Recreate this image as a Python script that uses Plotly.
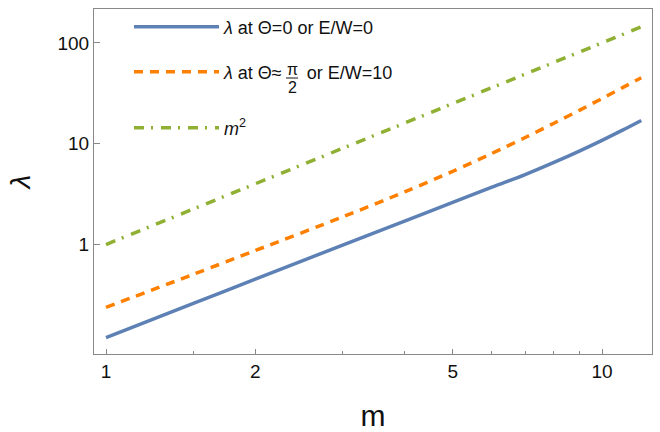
import plotly.graph_objects as go

# ---- data ----
m_vals = [1, 1.5, 2, 3, 4, 5, 6, 7, 8, 9, 10, 11, 12]
lam_theta0 = [0.119, 0.260, 0.453, 0.987, 1.710, 2.612, 3.708, 4.939, 6.52, 8.446, 10.79, 13.62, 17.01]
lam_theta_pi2 = [0.238, 0.506, 0.871, 1.879, 3.327, 5.32, 8.02, 11.51, 15.96, 21.43, 28.05, 35.97, 45.08]
m_squared = [1, 2.25, 4, 9, 16, 25, 36, 49, 64, 81, 100, 121, 144]

x_tickvals = [1, 2, 5, 10]
x_ticktext = ["1", "2", "5", "10"]
x_minor = [1.5, 3, 4, 6, 7, 8, 9]
y_tickvals = [1, 10, 100]
y_ticktext = ["1", "10", "100"]

BLUE = "#5E81B5"
ORANGE = "#FF8000"
GREEN = "#8FB032"
FRAME = "#888888"
FONT = "Liberation Sans, Arial, sans-serif"
NB = "\u00a0"

fig = go.Figure()
fig.add_trace(go.Scatter(x=m_vals, y=lam_theta0, mode="lines", showlegend=True,
                         name="<i>λ</i> at Θ=0 or E/W=0",
                         line=dict(color=BLUE, width=3.5, shape="spline", smoothing=0.8),
                         legend="legend"))
fig.add_trace(go.Scatter(x=m_vals, y=lam_theta_pi2, mode="lines", showlegend=True,
                         name="<i>λ</i> at Θ≈" + NB * 5 + "or E/W=10",
                         line=dict(color=ORANGE, width=3.5, dash="9px,7px", shape="spline", smoothing=0.8),
                         legend="legend2"))
fig.add_trace(go.Scatter(x=m_vals, y=m_squared, mode="lines", showlegend=True,
                         name="<i>m</i><sup>2</sup>",
                         line=dict(color=GREEN, width=3.5, dash="10px,7px,2px,8px"),
                         legend="legend3"))

# plot area: x 94..652 px, y 9..354 px
L, R, T, B = 94, 652, 9, 354
def px(x):
    return (x - L) / (R - L)
def py(y):
    return (B - y) / (B - T)

def leg(y):
    return dict(x=px(129), y=py(y), xref="paper", yref="paper", xanchor="left", yanchor="middle",
                bgcolor="rgba(0,0,0,0)", borderwidth=0, itemwidth=85, visible=True,
                font=dict(family=FONT, size=18, color="#111"))

fig.update_layout(
    width=660, height=432,
    margin=dict(l=L, r=660 - R, t=T, b=432 - B, autoexpand=False),
    paper_bgcolor="white", plot_bgcolor="white",
    showlegend=True,
    font=dict(family=FONT, size=18, color="#111"),
    legend=leg(27),
    legend2=leg(72),
    legend3=leg(128),
    xaxis=dict(type="log", range=[-0.0242, 1.1008], automargin=False,
               tickmode="array", tickvals=x_tickvals, ticktext=x_ticktext,
               ticks="inside", ticklen=5, tickwidth=1, tickcolor=FRAME,
               minor=dict(tickmode="array", tickvals=x_minor, ticks="inside",
                          ticklen=3, tickwidth=1, tickcolor=FRAME, showgrid=False),
               showline=True, linecolor=FRAME, linewidth=1, mirror=True,
               showgrid=False, zeroline=False,
               tickfont=dict(family=FONT, size=19, color="#111"),
               title=dict(text="m", font=dict(family=FONT, size=30, color="#111"), standoff=33)),
    yaxis=dict(type="log", range=[-1.086, 2.336], automargin=False,
               tickmode="array", tickvals=y_tickvals, ticktext=y_ticktext,
               ticks="inside", ticklen=6, tickwidth=1, tickcolor=FRAME,
               showline=True, linecolor=FRAME, linewidth=1, mirror=True,
               showgrid=False, zeroline=False,
               tickfont=dict(family=FONT, size=19, color="#111"),
               title=dict(text="<i>λ</i>", font=dict(family=FONT, size=28, color="#111"), standoff=18)),
)

# stacked fraction π/2 inside the second legend entry
frac_x = px(292)
fig.add_annotation(text="π", xref="paper", yref="paper", x=frac_x, y=py(69),
                   xanchor="center", yanchor="middle",
                   showarrow=False, font=dict(family=FONT, size=16, color="#111"))
fig.add_annotation(text="2", xref="paper", yref="paper", x=frac_x, y=py(88),
                   xanchor="center", yanchor="middle",
                   showarrow=False, font=dict(family=FONT, size=16, color="#111"))
fig.add_shape(type="line", xref="paper", yref="paper",
              x0=px(286), x1=px(298), y0=py(78), y1=py(78),
              line=dict(color="#111", width=1))

fig.write_html("out.html")
